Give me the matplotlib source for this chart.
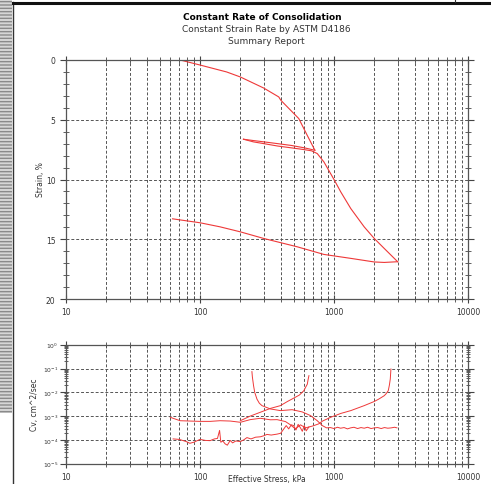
import matplotlib.pyplot as plt
import matplotlib.ticker as mticker
from matplotlib.patches import Rectangle
import numpy as np

# ------------ data -------------
# strain vs effective stress (kPa, %)
load1_stress = [72.9, 100, 158, 200, 298, 387, 400, 420, 546, 631, 720]
load1_strain = [0.03, 0.42, 1.0, 1.42, 2.34, 3.09, 3.35, 3.6, 4.9, 6.3, 7.55]

unload1_stress = [720, 600, 480, 380, 300, 250, 211]
unload1_strain = [7.55, 7.35, 7.15, 7.0, 6.85, 6.74, 6.63]

reload_stress = [211, 250, 300, 380, 480, 600, 680, 750, 841, 1000, 1122, 1334, 1679, 1995, 2371, 2985]
reload_strain = [6.63, 6.85, 7.0, 7.2, 7.35, 7.5, 7.6, 7.83, 8.53, 10.0, 11.03, 12.43, 13.96, 14.93, 15.77, 16.88]

unload2_stress = [2985, 2371, 1995, 1334, 841, 531, 298, 200, 141, 100, 62.4]
unload2_strain = [16.88, 16.94, 16.9, 16.6, 16.27, 15.63, 14.93, 14.38, 13.96, 13.62, 13.29]

# Cv vs effective stress (kPa, cm^2/sec)
cv_load1_stress = [63, 70, 79, 84, 90, 100, 110, 119, 128, 135, 140, 143, 148, 154, 160, 168, 175,
                   185, 200, 212, 224, 240, 260, 282, 300, 316, 340, 376, 400, 422, 440, 459, 480,
                   500, 520, 540, 562, 580, 600, 620, 650]
cv_load1 = [1.1e-4, 1.05e-4, 8.5e-5, 7.2e-5, 8.0e-5, 1.05e-4, 9.5e-5, 9.3e-5, 1.1e-4, 1.15e-4, 2.5e-4,
            8.0e-5, 9.0e-5, 6.8e-5, 6.0e-5, 9.5e-5, 7.5e-5, 9.0e-5, 8.5e-5, 1.0e-4, 1.25e-4, 1.1e-4,
            1.3e-4, 1.35e-4, 1.5e-4, 1.7e-4, 1.6e-4, 1.75e-4, 1.9e-4, 2.9e-4, 4.0e-4, 2.9e-4, 4.3e-4,
            4.0e-4, 2.6e-4, 4.5e-4, 3.2e-4, 2.3e-4, 4.0e-4, 2.4e-4, 3.5e-4]

cv_unload1_stress = [650, 640, 632, 613, 596, 552, 515, 449, 398, 335, 282, 237, 200]
cv_unload1 = [5.0e-2, 3.3e-2, 2.2e-2, 1.6e-2, 1.17e-2, 7.7e-3, 6.2e-3, 4.1e-3, 2.75e-3, 2.1e-3,
              1.45e-3, 1.0e-3, 6.4e-4]

cv_reload_stress = [244, 246, 251, 256, 266, 277, 290, 335, 398, 487, 579, 668, 750, 818, 880,
                    940, 1000, 1060, 1120, 1190, 1260, 1330, 1410, 1500, 1590, 1680, 1780, 1890,
                    2000, 2120, 2250, 2380, 2520, 2670, 2830, 2950]
cv_reload = [7.4e-2, 4.4e-2, 1.9e-2, 1.0e-2, 5.2e-3, 3.5e-3, 2.75e-3, 2.0e-3, 1.7e-3, 1.86e-3,
             1.5e-3, 1.05e-3, 6.4e-4, 4.0e-4, 3.2e-4,
             3.3e-4, 3.0e-4, 3.4e-4, 3.1e-4, 3.3e-4, 2.9e-4, 3.2e-4, 3.4e-4, 3.0e-4, 3.3e-4,
             3.1e-4, 3.4e-4, 3.0e-4, 3.2e-4, 3.3e-4, 3.0e-4, 3.3e-4, 3.1e-4, 3.2e-4, 3.4e-4, 3.2e-4]

cv_unload2_stress = [2660, 2645, 2630, 2590, 2541, 2440, 2371, 2160, 1995, 1679, 1334, 1122, 944,
                     822, 768, 689, 613, 562, 515, 473, 434, 376, 335, 282, 237, 200, 168, 141,
                     119, 100, 84, 71, 60]
cv_unload2 = [9.5e-2, 5.9e-2, 3.6e-2, 2.0e-2, 1.17e-2, 8.5e-3, 7.2e-3, 5.2e-3, 4.1e-3, 2.75e-3,
              1.7e-3, 1.29e-3, 8.9e-4, 6.2e-4, 4.7e-4, 3.8e-4, 3.2e-4, 4.3e-4, 2.9e-4, 4.3e-4,
              5.9e-4, 7.1e-4, 7.0e-4, 8.1e-4, 7.1e-4, 5.5e-4, 6.2e-4, 6.4e-4, 6.0e-4, 6.0e-4,
              6.2e-4, 6.4e-4, 8.9e-4]

x_ticks = [10, 100, 1000, 10000]
x_labels = ['10', '100', '1000', '10000']
strain_ticks = [0, 5, 10, 15, 20]
cv_ticks = [1, 1e-1, 1e-2, 1e-3, 1e-4, 1e-5]
cv_labels = ['$10^{0}$', '$10^{-1}$', '$10^{-2}$', '$10^{-3}$', '$10^{-4}$', '$10^{-5}$']

RED = '#ee3838'
GRID = '#555555'
TXT = '#333333'
FS = 5.5

# ------------ figure -------------
W, H = 491, 485
fig = plt.figure(figsize=(W / 100, H / 100), dpi=100)


def px(x, y, w, h):
    return [x / W, 1 - (y + h) / H, w / W, h / H]


def estilo_x(ax):
    ax.set_xscale('log')
    ax.set_xlim(10, 10000)
    ax.xaxis.set_major_locator(mticker.FixedLocator(x_ticks))
    ax.xaxis.set_major_formatter(mticker.FixedFormatter(x_labels))
    ax.xaxis.set_minor_locator(mticker.LogLocator(base=10, subs=np.arange(2, 10)))
    ax.xaxis.set_minor_formatter(mticker.NullFormatter())
    ax.tick_params(axis='x', which='both', direction='inout', top=True, bottom=True,
                   color='#444444', labelsize=FS, labelcolor=TXT, pad=3)
    ax.tick_params(axis='x', which='major', length=6)
    ax.tick_params(axis='x', which='minor', length=4)
    ax.grid(True, axis='x', which='both', color=GRID, linestyle=(0, (3, 2)), linewidth=0.7)
    ax.grid(True, axis='y', which='major', color=GRID, linestyle=(0, (3, 2)), linewidth=0.7)
    for s in ax.spines.values():
        s.set_color('#555555')
        s.set_linewidth(0.9)


# top: strain
ax1 = fig.add_axes(px(66, 61, 402, 239))
estilo_x(ax1)
ax1.set_ylim(20, 0)
ax1.yaxis.set_major_locator(mticker.FixedLocator(strain_ticks))
ax1.yaxis.set_minor_locator(mticker.MultipleLocator(1))
ax1.tick_params(axis='y', which='major', direction='out', length=4, labelsize=FS,
                labelcolor=TXT, color='#444444', right=True)
ax1.tick_params(axis='y', which='minor', direction='inout', length=4, color='#444444', right=True)

for xs, ys in [(load1_stress, load1_strain), (unload1_stress, unload1_strain),
               (reload_stress, reload_strain), (unload2_stress, unload2_strain)]:
    ax1.plot(xs, ys, color=RED, linewidth=0.8)

# bottom: Cv
ax2 = fig.add_axes(px(66, 345.7, 402, 119))
estilo_x(ax2)
ax2.set_yscale('log')
ax2.set_ylim(1e-5, 1)
ax2.yaxis.set_major_locator(mticker.FixedLocator(cv_ticks))
ax2.yaxis.set_major_formatter(mticker.FixedFormatter(cv_labels))
ax2.yaxis.set_minor_locator(mticker.LogLocator(base=10, subs=np.arange(2, 10)))
ax2.yaxis.set_minor_formatter(mticker.NullFormatter())
ax2.tick_params(axis='y', which='major', direction='out', length=4, labelsize=4.3,
                labelcolor=TXT, color='#444444', right=True, pad=1.5)
ax2.tick_params(axis='y', which='minor', direction='inout', length=3, color='#444444', right=True)

for xs, ys in [(cv_load1_stress, cv_load1), (cv_unload1_stress, cv_unload1),
               (cv_reload_stress, cv_reload), (cv_unload2_stress, cv_unload2)]:
    ax2.plot(xs, ys, color=RED, linewidth=0.7)

# textos
fig.text(262 / W, 1 - 17 / H, 'Constant Rate of Consolidation', ha='center', va='center',
         fontsize=6.5, fontweight='bold')
fig.text(266 / W, 1 - 29 / H, 'Constant Strain Rate by ASTM D4186', ha='center', va='center',
         fontsize=6.5, color=TXT)
fig.text(266 / W, 1 - 41 / H, 'Summary Report', ha='center', va='center',
         fontsize=6.5, color=TXT)
fig.text(40 / W, 1 - 180 / H, 'Strain, %', rotation=90, ha='center', va='center',
         fontsize=FS, color=TXT)
fig.text(34 / W, 1 - 405 / H, 'Cv, cm^2/sec', rotation=90, ha='center', va='center',
         fontsize=FS, color=TXT)
fig.text(267 / W, 1 - 484 / H, 'Effective Stress, kPa', ha='center', va='bottom',
         fontsize=FS, color=TXT)

# moldura da janela (captura de tela)
fig.patches.append(Rectangle((0, 1 - 414 / H), 12 / W, 414 / H, transform=fig.transFigure,
                             facecolor='#d6d6d6', edgecolor='#8a8a8a', hatch='-----',
                             linewidth=0))
fig.add_artist(plt.Line2D([13 / W, 13 / W], [0, 1 - 3 / H], transform=fig.transFigure,
                          color='#333333', linewidth=1.0))
fig.add_artist(plt.Line2D([13 / W, 1], [1 - 4 / H, 1 - 4 / H], transform=fig.transFigure,
                          color='#111111', linewidth=2.2))
fig.add_artist(plt.Line2D([455 / W, 455 / W], [1 - 3 / H, 1], transform=fig.transFigure,
                          color='#333333', linewidth=0.8))

fig.savefig('out.png', dpi=100)
